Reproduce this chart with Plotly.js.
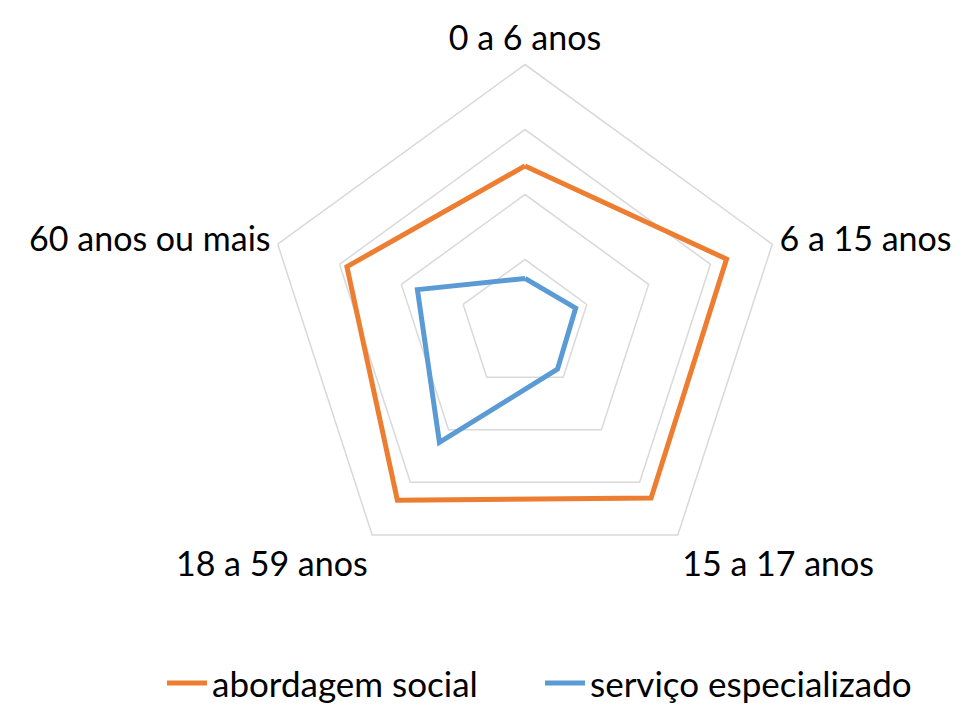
<!DOCTYPE html>
<html>
<head>
<meta charset="utf-8">
<script src="https://cdn.plot.ly/plotly-3.0.1.min.js"></script>
<style>html,body{margin:0;padding:0;background:#fff;}#chart{width:966px;height:713px;}</style>
</head>
<body>
<div id="chart"></div>
<script>
const categories = ["0 a 6 anos", "6 a 15 anos", "15 a 17 anos", "18 a 59 anos", "60 anos ou mais"];
const abordagemSocial = [24.4, 32.6, 33.0, 33.4, 28.8];
const servicoEspecializado = [7.1, 8.2, 8.5, 22.4, 17.4];
const seriesNames = ["abordagem social", "serviço especializado"];

function closed(arr) { return arr.concat([arr[0]]); }

const traces = [
  {type: "scatterpolar", mode: "lines", name: seriesNames[0],
   r: closed(abordagemSocial), theta: closed(categories),
   line: {color: "#ED7D31", width: 5}, legend: "legend"},
  {type: "scatterpolar", mode: "lines", name: seriesNames[1],
   r: closed(servicoEspecializado), theta: closed(categories),
   line: {color: "#5B9BD5", width: 5}, legend: "legend2"}
];

const cx = 525, cy = 332, R = 266;
const layout = {
  width: 966, height: 713,
  margin: {l: 0, r: 0, t: 0, b: 0},
  paper_bgcolor: "#fff",
  font: {family: "Lato, 'Open Sans', sans-serif", size: 34, color: "#000"},
  showlegend: true,
  legend: {x: 162/966, xanchor: "left", y: 1 - 699/713, yanchor: "middle",
           font: {size: 35}, itemwidth: 40, bgcolor: "rgba(0,0,0,0)"},
  legend2: {x: 540/966, xanchor: "left", y: 1 - 699/713, yanchor: "middle",
           font: {size: 35}, itemwidth: 40, bgcolor: "rgba(0,0,0,0)"},
  polar: {
    domain: {x: [(cx - R)/966, (cx + R)/966], y: [1 - (cy + R)/713, 1 - (cy - R)/713]},
    gridshape: "linear",
    bgcolor: "#fff",
    radialaxis: {range: [0, 40], dtick: 10, showticklabels: false, ticks: "",
                 showline: false, gridcolor: "#d9d9d9", gridwidth: 1.5},
    angularaxis: {rotation: 90, direction: "clockwise", showgrid: false,
                  showline: true, linecolor: "#d9d9d9", linewidth: 1.5, ticks: "",
                  tickfont: {size: 34}}
  }
};

Plotly.newPlot("chart", traces, layout, {displayModeBar: false, staticPlot: true});
</script>
</body>
</html>
